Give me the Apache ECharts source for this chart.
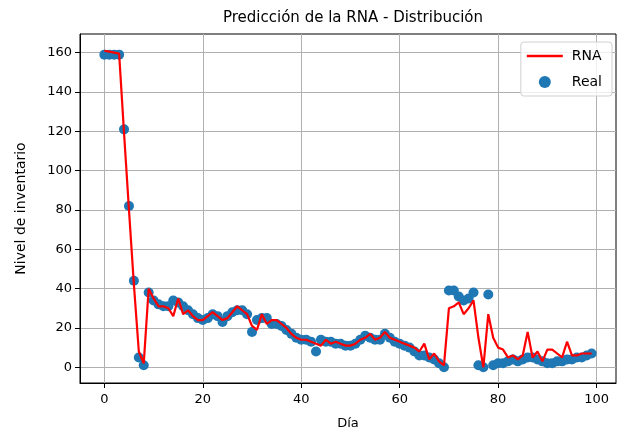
<!DOCTYPE html>
<html>
<head>
<meta charset="utf-8">
<script src="https://cdn.jsdelivr.net/npm/echarts@6/dist/echarts.min.js"></script>
<style>
html,body{margin:0;padding:0;background:#fff;}
#c{width:624px;height:435px;}
</style>
</head>
<body>
<div id="c"></div>
<script>
const days = Array.from({length: 100}, (_, i) => i);
const realValues = [
  159,159,159,159,121,82,44,5,1,38,
  34,32,31,31,34,33,31,29,27,25,
  24,25,27,26,23,26,28,29,29,27,
  18,24,25,25,22,22,21,19,17,15,
  14,14,13,8,14,13,13,12,12,11,
  11,12,14,16,15,14,14,17,15,13,
  12,11,10,8,6,6,5,4,2,0,
  39,39,36,34,35,38,1,0,37,1,
  2,2,3,4,3,4,5,5,4,3,
  2,2,3,3,4,4,5,5,6,7
];
const rnaValues = [
  161,160.5,160,159.5,119,80,42,8,2,40,
  35,31,31,30,26,35,27,29,26,24,
  24,26,28,26,24,25,28,31,29,27,
  21,19,27,22,24,24,22,20,17,15,
  14,14,13,12,11,14,12,13,12,11,
  11,12,14,15,17,14,15,18,15,14,
  13,12,11,10,8,12,4,7,3,1,
  30,31,33,27,30,34,15,0,27,15,
  10,9,5,6,4,6,18,5,8,3,
  9,9,7,5,13,6,6,7,7,7
];
const xTicks = [0, 20, 40, 60, 80, 100];
const yTicks = [0, 20, 40, 60, 80, 100, 120, 140, 160];

const chart = echarts.init(document.getElementById('c'), null, {renderer: 'canvas'});
const font = 'DejaVu Sans';
chart.setOption({
  animation: false,
  backgroundColor: '#ffffff',
  title: {
    text: 'Predicción de la RNA - Distribución',
    left: 348, top: 6, textAlign: 'center',
    textStyle: {fontFamily: font, fontSize: 15, fontWeight: 'normal', color: '#000'}
  },
  legend: {
    right: 12, top: 42, orient: 'vertical',
    backgroundColor: 'rgba(255,255,255,0.8)', borderColor: '#d0d0d0', borderWidth: 1, borderRadius: 3,
    padding: [7, 10, 7, 6], itemGap: 12, itemWidth: 36, itemHeight: 12,
    textStyle: {fontFamily: font, fontSize: 14, color: '#000', padding: [0, 0, 0, 4]},
    data: [
      {name: 'RNA', icon: 'path://M0,0 L36,0 L36,2.5 L0,2.5 Z'},
      {name: 'Real', icon: 'path://M6,0 A6,6 0 1,1 6,12 A6,6 0 1,1 6,0 Z'}
    ]
  },
  grid: {left: 80, right: 8, top: 34, bottom: 52, show: true, borderColor: '#000', borderWidth: 1},
  xAxis: {
    type: 'value', min: -4.95, max: 103.95,
    name: 'Día', nameLocation: 'middle', nameGap: 34,
    nameTextStyle: {fontFamily: font, fontSize: 13, color: '#000'},
    axisLine: {show: true, onZero: false, lineStyle: {color: '#000', width: 1}},
    axisTick: {show: true, inside: false, length: 5, lineStyle: {color: '#000'}, customValues: xTicks},
    axisLabel: {fontFamily: font, fontSize: 13, color: '#000', margin: 10, customValues: xTicks},
    splitLine: {show: true, lineStyle: {color: '#b0b0b0', width: 1}}
  },
  yAxis: {
    type: 'value', min: -8, max: 169.5,
    name: 'Nivel de inventario', nameLocation: 'middle', nameGap: 52, nameRotate: 90,
    nameTextStyle: {fontFamily: font, fontSize: 14, color: '#000'},
    axisLine: {show: true, onZero: false, lineStyle: {color: '#000', width: 1}},
    axisTick: {show: true, inside: false, length: 5, lineStyle: {color: '#000'}, customValues: yTicks},
    axisLabel: {fontFamily: font, fontSize: 13, color: '#000', margin: 8, customValues: yTicks},
    splitLine: {show: true, lineStyle: {color: '#b0b0b0', width: 1}}
  },
  series: [
    {
      name: 'Real', type: 'scatter', symbolSize: 10, z: 2,
      itemStyle: {color: '#1f77b4', opacity: 1},
      data: days.map((d, i) => [d, realValues[i]])
    },
    {
      name: 'RNA', type: 'line', symbol: 'none', z: 3,
      lineStyle: {color: '#ff0000', width: 2.2}, itemStyle: {color: '#ff0000'},
      data: days.map((d, i) => [d, rnaValues[i]])
    }
  ]
});
</script>
</body>
</html>
